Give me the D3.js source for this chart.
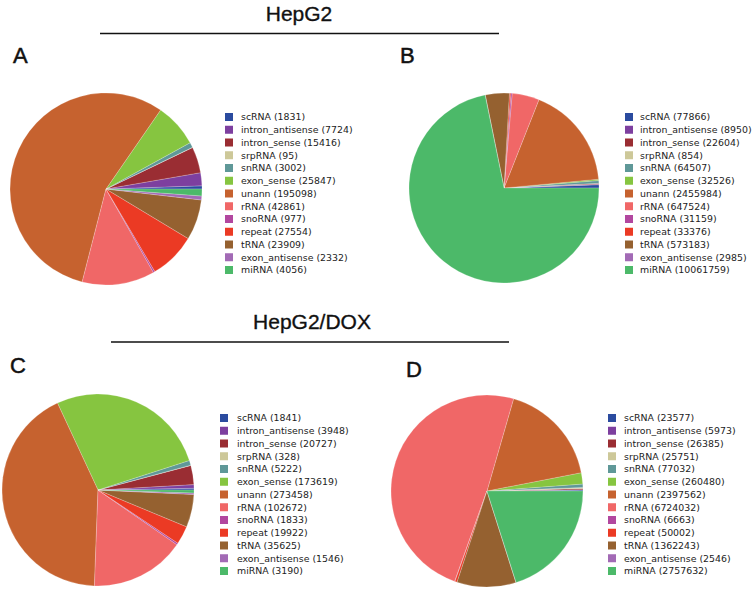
<!DOCTYPE html>
<html><head><meta charset="utf-8">
<script src="https://cdn.jsdelivr.net/npm/d3@7"></script>
<style>body{margin:0;background:#fff}svg{display:block}</style>
</head><body>
<script>
const categories = ["scRNA","intron_antisense","intron_sense","srpRNA","snRNA","exon_sense","unann","rRNA","snoRNA","repeat","tRNA","exon_antisense","miRNA"];
const colors = ["#2b4b9f","#7d3f9f","#9a2d33","#cdc899","#5f9898","#86c540","#c6622f","#f06767","#b2479f","#eb3a24","#956130","#a26ab5","#4cb969"];
const valuesA = [1831,7724,15416,95,3002,25847,195098,42861,977,27554,23909,2332,4056];
const valuesB = [77866,8950,22604,854,64507,32526,2455984,647524,31159,33376,573183,2985,10061759];
const valuesC = [1841,3948,20727,328,5222,173619,273458,102672,1833,19922,35625,1546,3190];
const valuesD = [23577,5973,26385,25751,77032,260480,2397562,6724032,6663,50002,1362243,2546,2757632];
const groupTitles = ["HepG2","HepG2/DOX"];
const panelLabels = ["A","B","C","D"];

const W = 754, H = 590;
const svg = d3.select("body").append("svg").attr("width", W).attr("height", H);

// group titles and rules
const groups = [
  {title: groupTitles[0], cx: 299, ty: 21, x1: 100, x2: 499, ly: 33.5},
  {title: groupTitles[1], cx: 312, ty: 329, x1: 111, x2: 509, ly: 342}
];
groups.forEach(g => {
  svg.append("text").attr("x", g.cx).attr("y", g.ty).attr("text-anchor","middle")
    .attr("font-family","Liberation Sans, Arial, sans-serif").attr("font-size", 21)
    .attr("fill","#111").attr("stroke","#111").attr("stroke-width",0.35).text(g.title);
  svg.append("line").attr("x1", g.x1).attr("x2", g.x2).attr("y1", g.ly).attr("y2", g.ly)
    .attr("stroke","#111").attr("stroke-width",1.5);
});

const panels = [
  {label: panelLabels[0], lx: 13, ly: 63, cx: 106, cy: 189, r: 96, sqx: 225, tx: 241, ly0: 117, values: valuesA},
  {label: panelLabels[1], lx: 400, ly: 63, cx: 504, cy: 188, r: 95, sqx: 625, tx: 640, ly0: 117, values: valuesB},
  {label: panelLabels[2], lx: 10, ly: 373, cx: 98, cy: 490, r: 96, sqx: 220, tx: 237, ly0: 418, values: valuesC},
  {label: panelLabels[3], lx: 406, ly: 377, cx: 487, cy: 491, r: 96, sqx: 608, tx: 624, ly0: 418, values: valuesD}
];

const pie = d3.pie().sort(null).startAngle(Math.PI/2).endAngle(Math.PI/2 - 2*Math.PI);
const step = 12.75;
const yScale = d3.scaleLinear().domain([0, categories.length-1]).range([0, step*(categories.length-1)]);

panels.forEach(p => {
  svg.append("text").attr("x", p.lx).attr("y", p.ly)
    .attr("font-family","Liberation Sans, Arial, sans-serif").attr("font-size", 22)
    .attr("fill","#111").attr("stroke","#111").attr("stroke-width",0.5).text(p.label);
  const arc = d3.arc().innerRadius(0).outerRadius(p.r);
  const g = svg.append("g").attr("transform", `translate(${p.cx},${p.cy})`);
  g.selectAll("path").data(pie(p.values)).join("path")
    .attr("d", arc).attr("fill", (d,i) => colors[i])
    .attr("stroke","#ffffff").attr("stroke-opacity",0.35).attr("stroke-width",0.6);
  const lg = svg.append("g");
  categories.forEach((c,i) => {
    const y = p.ly0 + yScale(i);
    lg.append("rect").attr("x", p.sqx).attr("y", y-4).attr("width",8).attr("height",8).attr("fill", colors[i]);
    lg.append("text").attr("x", p.tx).attr("y", y+3.4)
      .attr("font-family","DejaVu Sans, Verdana, sans-serif").attr("font-size", 9.4)
      .attr("fill","#222").text(`${c} (${p.values[i]})`);
  });
});
</script>
</body></html>
